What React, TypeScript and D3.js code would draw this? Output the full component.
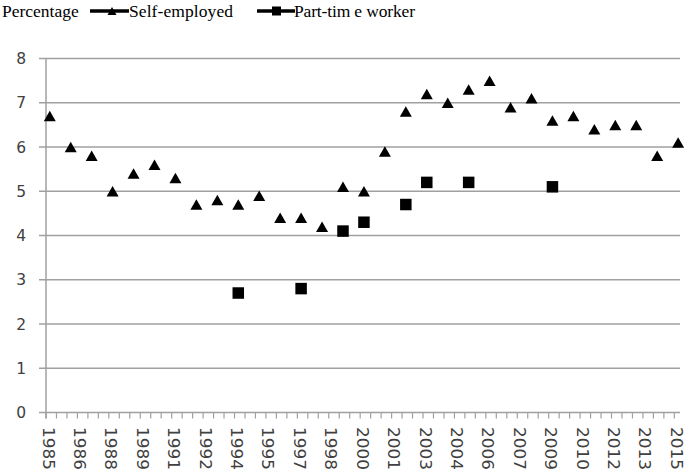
import React from "react";
import * as d3 from "d3";

const years = d3.range(1985, 2016);
const selfEmployed = [
  6.7, 6.0, 5.8, 5.0, 5.4, 5.6, 5.3, 4.7, 4.8, 4.7,
  4.9, 4.4, 4.4, 4.2, 5.1, 5.0, 5.9, 6.8, 7.2, 7.0,
  7.3, 7.5, 6.9, 7.1, 6.6, 6.7, 6.4, 6.5, 6.5, 5.8, 6.1,
];
const partTimeYears = [1994, 1997, 1999, 2000, 2002, 2003, 2005, 2009];
const partTimeValues = [2.7, 2.8, 4.1, 4.3, 4.7, 5.2, 5.2, 5.1];
const xTickLabels = [
  "1985", "1986", "1988", "1989", "1991", "1992", "1994", "1995", "1997", "1998",
  "2000", "2001", "2003", "2004", "2006", "2007", "2009", "2010", "2012", "2013", "2015",
];
const yTicks = [0, 1, 2, 3, 4, 5, 6, 7, 8];

const W = 685;
const H = 475;
const left = 46;
const right = 680;
const top = 58.5;
const bottom = 412.5;

const axisStart = 1984.82;
const x = d3.scaleLinear().domain([axisStart, 2015.09]).range([left, right]);
const y = d3.scaleLinear().domain([0, 8]).range([bottom, top]);

const minorTicks = d3.range(0, 61).map((k) => axisStart + k * 0.5);

const grid = "#a0a0a0";
const axisFont = "'DejaVu Sans', Verdana, sans-serif";
const serif = "'Liberation Serif', 'Times New Roman', serif";

function tri(cx: number, cy: number, w: number, h: number) {
  return `M${cx},${cy - h / 2}L${cx + w / 2},${cy + h / 2}L${cx - w / 2},${cy + h / 2}Z`;
}

export default function App() {
  return (
    <svg
      width={W}
      height={H}
      style={{ position: "absolute", left: 0, top: 0, background: "#fff" }}
    >
      {/* legend */}
      <text x={2} y={17} fontFamily={serif} fontSize={17.5} fill="#000">
        Percentage
      </text>
      <line x1={90} x2={129} y1={11} y2={11} stroke="#000" strokeWidth={3.5} />
      <path d={tri(112, 11, 9, 8)} fill="#000" />
      <text x={129} y={17} fontFamily={serif} fontSize={17.5} fill="#000" textLength={104}>
        Self-employed
      </text>
      <line x1={257} x2={295} y1={11} y2={11} stroke="#000" strokeWidth={3.5} />
      <rect x={272} y={6.5} width={9} height={9} fill="#000" />
      <text x={294} y={17} fontFamily={serif} fontSize={17.5} fill="#000" textLength={121}>
        Part-tim e worker
      </text>

      {/* gridlines and y ticks */}
      {yTicks.map((t) => (
        <g key={t}>
          <line
            x1={39}
            x2={right}
            y1={y(t)}
            y2={y(t)}
            stroke={grid}
            strokeWidth={t === 0 ? 1.5 : 1.3}
          />
          <text
            x={26}
            y={y(t)}
            dy="0.36em"
            textAnchor="end"
            fontFamily={axisFont}
            fontSize={15.5}
            fill="#404040"
          >
            {t}
          </text>
        </g>
      ))}
      {/* y axis line */}
      <line x1={left} x2={left} y1={top} y2={bottom + 6} stroke={grid} strokeWidth={1.5} />

      {/* x ticks */}
      {minorTicks.map((t, i) => (
        <line
          key={i}
          x1={x(t)}
          x2={x(t)}
          y1={bottom}
          y2={bottom + 6}
          stroke={grid}
          strokeWidth={1.2}
        />
      ))}
      {xTickLabels.map((lab, i) => {
        const px = x(axisStart + i * 1.5) + 2.5;
        const py = 427;
        return (
          <text
            key={lab + i}
            transform={`translate(${px},${py}) rotate(90)`}
            dy="0.36em"
            fontFamily={axisFont}
            fontSize={16.5}
            textLength={43}
            lengthAdjust="spacingAndGlyphs"
            fill="#404040"
          >
            {lab}
          </text>
        );
      })}

      {/* self-employed triangles */}
      {years.map((yr, i) => (
        <path key={yr} d={tri(x(yr), y(selfEmployed[i]), 12, 10.5)} fill="#000" />
      ))}

      {/* part-time squares */}
      {partTimeYears.map((yr, i) => (
        <rect
          key={yr}
          x={x(yr) - 5.75}
          y={y(partTimeValues[i]) - 5.75}
          width={11.5}
          height={11.5}
          fill="#000"
        />
      ))}
    </svg>
  );
}
